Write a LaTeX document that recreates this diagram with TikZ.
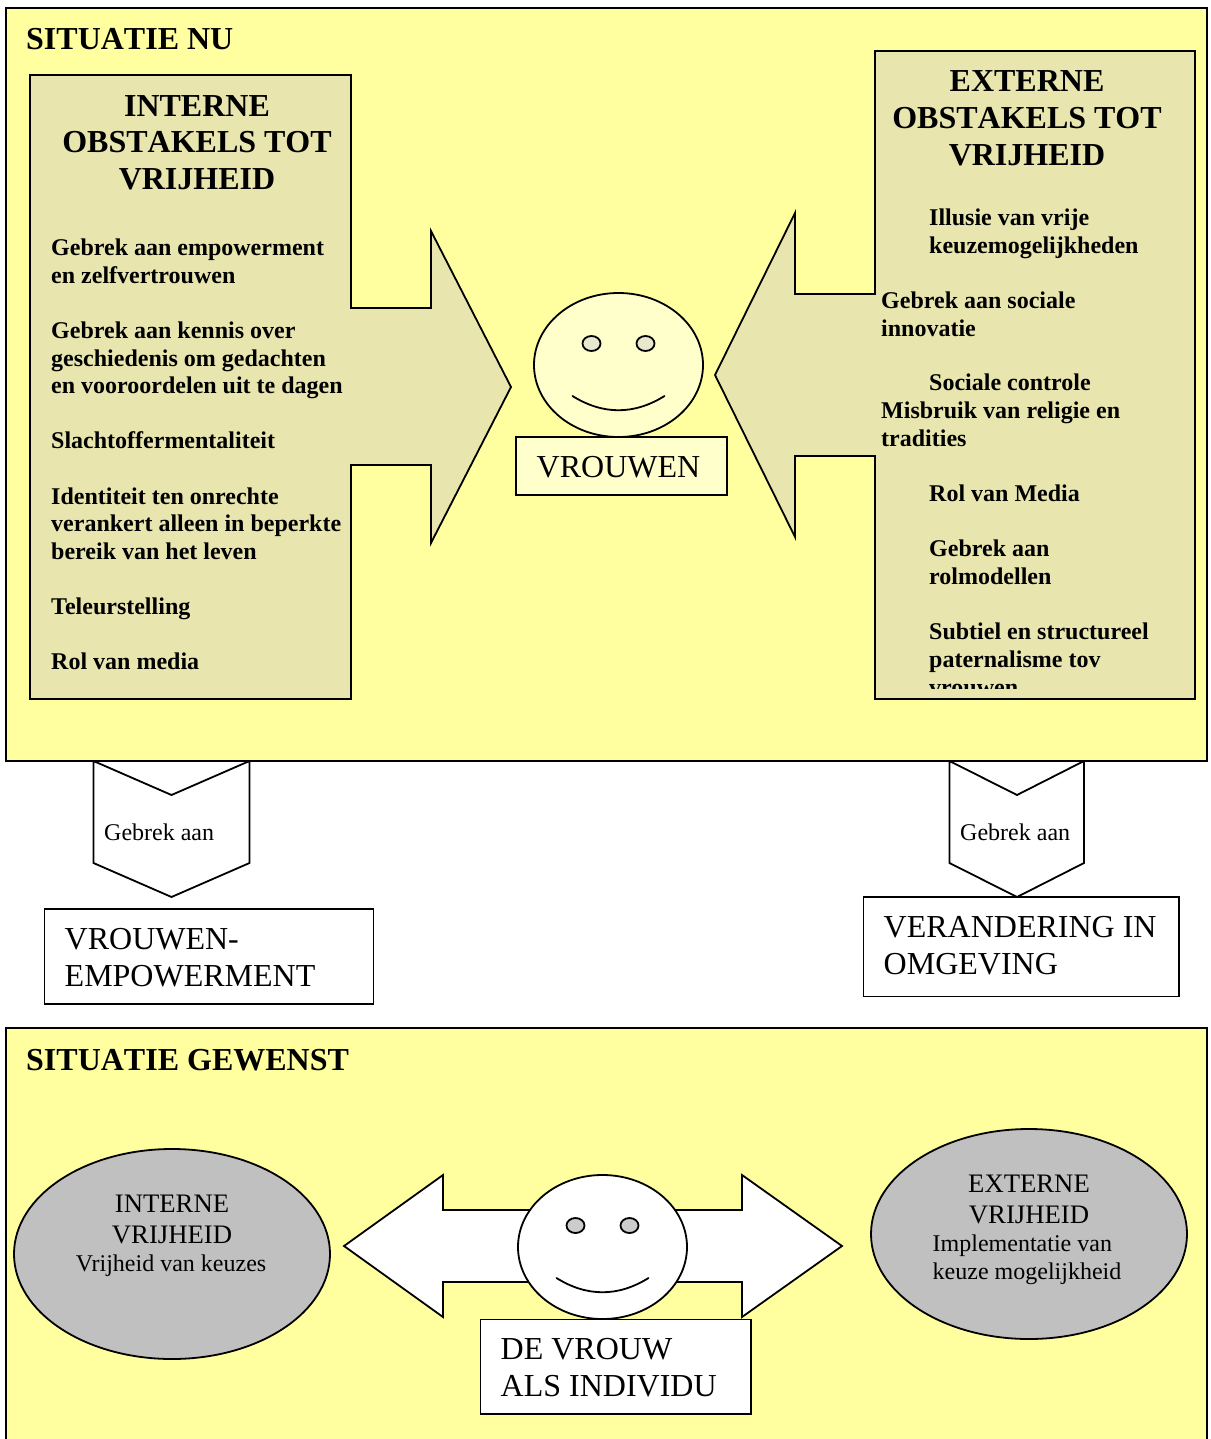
\documentclass[tikz,border=0pt]{standalone}
\usepackage{fontspec}
\setmainfont{Liberation Serif}
\definecolor{panelyellow}{HTML}{FFFF9F}
\definecolor{khaki}{HTML}{E8E6AE}
\definecolor{palecream}{HTML}{FFFFCC}
\definecolor{ovalgray}{HTML}{C0C0C0}
\definecolor{eyegray}{HTML}{CCCCCC}
\definecolor{eyecream}{HTML}{E8E8CC}
\tikzset{
  x=1pt,y=-1pt,
  ln/.style={draw=black,line width=1.8pt,line join=miter},
  panel/.style={ln,fill=panelyellow,line width=2pt},
  khakishape/.style={ln,fill=khaki},
  whiteshape/.style={ln,fill=white},
  creamshape/.style={ln,fill=palecream},
  grayoval/.style={ln,fill=ovalgray},
  smile/.style={draw=black,line width=1.8pt,line cap=round},
  txt/.style={inner sep=0pt,anchor=north west,align=left,text=black},
  ctxt/.style={inner sep=0pt,anchor=north,align=center,text=black},
  headfont/.style={font=\fontsize{32}{36.8}\selectfont\bfseries\addfontfeature{Kerning=Off}},
  bodyfont/.style={font=\fontsize{24}{27.6}\selectfont\bfseries},
  plainfont/.style={font=\fontsize{24}{28}\selectfont},
  bigfont/.style={font=\fontsize{32}{37}\selectfont},
  midfont/.style={font=\fontsize{26.7}{31}\selectfont},
}
\newcommand{\hb}{\rule{0pt}{21pt}}
\newcommand{\bb}{\rule{0pt}{16pt}}
\newcommand{\mb}{\rule{0pt}{18pt}}
\begin{document}
\begin{tikzpicture}
\useasboundingbox (0,0) rectangle (1210,1439);
% chevrons between panels (behind the top panel)
\path[whiteshape] (93.5,761) -- (171.5,795) -- (249.5,761) -- (249.5,863) -- (171.5,897) -- (93.5,863) -- cycle;
\path[whiteshape] (949.5,761) -- (1017,795) -- (1084,761) -- (1084,863) -- (1017,897) -- (949.5,863) -- cycle;
\node[txt,plainfont] (g1) at (104,824) {\bb Gebrek aan};
\node[txt,plainfont] (g2) at (960,824) {\bb Gebrek aan};
% top panel
\path[panel] (6,8) rectangle (1207,761);
\node[txt,headfont] (t1) at (26,28) {\hb SITUATIE NU};
% left block arrow
\path[khakishape] (30,75) -- (351,75) -- (351,308) -- (431,308) -- (431,231) -- (511,387) -- (431,543) -- (431,465) -- (351,465) -- (351,699) -- (30,699) -- cycle;
\node[ctxt,headfont] (h1) at (197,95) {\hb INTERNE\\OBSTAKELS TOT\\VRIJHEID};
\node[txt,bodyfont] (l1) at (51,239) {\bb Gebrek aan empowerment\\en zelfvertrouwen};
\node[txt,bodyfont] (l2) at (51,321.7) {\bb Gebrek aan kennis over\\geschiedenis om gedachten\\en vooroordelen uit te dagen};
\node[txt,bodyfont] (l3) at (51,431.5) {\bb Slachtoffermentaliteit};
\node[txt,bodyfont] (l4) at (51,487.5) {\bb Identiteit ten onrechte\\verankert alleen in beperkte\\bereik van het leven};
\node[txt,bodyfont] (l5) at (51,598) {\bb Teleurstelling};
\node[txt,bodyfont] (l6) at (51,653) {\bb Rol van media};
% right block arrow
\path[khakishape] (1195,51) -- (875,51) -- (875,294) -- (795,294) -- (795,213) -- (715,375) -- (795,537) -- (795,456) -- (875,456) -- (875,699) -- (1195,699) -- cycle;
\node[ctxt,headfont] (h2) at (1027,70.6) {\hb EXTERNE\\OBSTAKELS TOT\\VRIJHEID};
\node[txt,bodyfont] (r1) at (929,209) {\bb Illusie van vrije\\keuzemogelijkheden};
\node[txt,bodyfont] (r2) at (881,291.6) {\bb Gebrek aan sociale\\innovatie};
\node[txt,bodyfont] (r3) at (929,374) {\bb Sociale controle};
\node[txt,bodyfont] (r4) at (881,402) {\bb Misbruik van religie en\\tradities};
\node[txt,bodyfont] (r5) at (929,485) {\bb Rol van Media};
\node[txt,bodyfont] (r6) at (929,540) {\bb Gebrek aan\\rolmodellen};
\begin{scope}
\clip (900,600) rectangle (1190,688.5);
\node[txt,bodyfont] (r7) at (929,623) {\bb Subtiel en structureel\\paternalisme tov\\vrouwen};
\end{scope}
% top face
\path[creamshape] (618.5,365) ellipse [x radius=84.5,y radius=72];
\path[ln,fill=eyecream] (591.5,343.5) ellipse [x radius=9,y radius=7.5];
\path[ln,fill=eyecream] (645.5,343.5) ellipse [x radius=9,y radius=7.5];
\path[smile] (572.5,396) .. controls (603,415) and (634,415) .. (664.5,396);
\path[creamshape] (516,437) rectangle (727,495);
\node[ctxt,bigfont] (v1) at (618.5,456) {\hb VROUWEN};
% result boxes
\path[whiteshape] (44.5,909) rectangle (373.5,1004);
\node[txt,bigfont] (b1) at (64.5,928) {\hb VROUWEN-\\EMPOWERMENT};
\path[whiteshape] (863.5,897) rectangle (1179,996.5);
\node[txt,bigfont] (b2) at (883.5,916) {\hb VERANDERING IN\\OMGEVING};
% bottom panel
\path[panel] (6,1028) rectangle (1207,1450);
\node[txt,headfont] (t2) at (26,1049) {\hb SITUATIE GEWENST};
% ovals
\path[grayoval] (172,1254) ellipse [x radius=158,y radius=105];
\node[ctxt,midfont] (o1) at (172,1194) {\mb INTERNE\\VRIJHEID};
\node[ctxt,plainfont] (o2) at (171,1255) {\bb Vrijheid van keuzes};
\path[grayoval] (1029,1234) ellipse [x radius=158,y radius=105];
\node[ctxt,midfont] (o3) at (1029,1174) {\mb EXTERNE\\VRIJHEID};
\node[txt,plainfont] (o4) at (932.5,1235) {\bb Implementatie van\\keuze mogelijkheid};
% double arrow
\path[whiteshape] (344,1246) -- (443,1175) -- (443,1210) -- (742,1210) -- (742,1175) -- (842,1246) -- (742,1317) -- (742,1282) -- (443,1282) -- (443,1317) -- cycle;
% bottom face
\path[whiteshape] (602.5,1247) ellipse [x radius=84.5,y radius=72];
\path[ln,fill=eyegray] (575.5,1225.5) ellipse [x radius=9,y radius=7.5];
\path[ln,fill=eyegray] (629.5,1225.5) ellipse [x radius=9,y radius=7.5];
\path[smile] (556.5,1278) .. controls (587,1297) and (618,1297) .. (648.5,1278);
\path[whiteshape] (480.5,1319.5) rectangle (751,1414);
\node[txt,bigfont] (b3) at (500.5,1338) {\hb DE VROUW\\ALS INDIVIDU};
\end{tikzpicture}
\end{document}
